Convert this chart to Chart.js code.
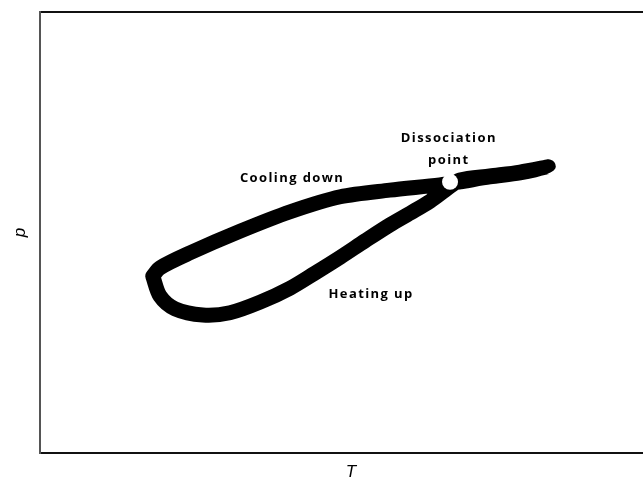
<!DOCTYPE html>
<html>
<head>
<meta charset="utf-8">
<script src="https://cdn.jsdelivr.net/npm/chart.js@4"></script>
<style>
  html, body { margin: 0; padding: 0; background: #fff; }
  #holder { width: 643px; height: 481px; }
</style>
</head>
<body>
<div id="holder"><canvas id="chart-area-1"></canvas></div>
<script>

// loop, heating branch first (lower), then back along the cooling branch (upper)
var tempValues     = [18.7, 19.9, 22.4, 27.0, 31.5, 36.5, 41.5, 45.6, 49.8, 53.9, 58.0, 61.4, 64.7, 67.2, 69.7, 74.6, 79.6, 84.3,
                      79.6, 74.6, 69.7, 66.3, 58.0, 49.8, 41.5, 33.2, 24.9, 19.9, 18.7];
var pressureValues = [40.1, 35.6, 32.7, 31.3, 31.8, 34.2, 37.4, 40.8, 44.4, 48.1, 51.7, 54.4, 57.1, 59.6, 61.9, 62.8, 63.7, 64.9,
                      63.5, 62.6, 61.5, 60.8, 59.6, 58.1, 54.7, 50.3, 45.4, 42.0, 40.1];

var dissocT = [68.0];
var dissocP = [61.5];

var noteTexts = ["Dissociation", "point", "Cooling down", "Heating up"];
var noteT     = [67.8, 67.8, 41.8, 54.9];
var noteP     = [71.4, 66.4, 62.4, 36.1];

var xTitle = "T";
var yTitle = "p";


function make_points(xs, ys) {
    var pts = [];
    for (var i = 0; i < xs.length; i++) {
        pts.push({x: xs[i], y: ys[i]});
    }
    return pts;
}

// frame, axis titles and text notes
var decorPlugin = {
    id: 'decor',
    afterDatasetsDraw: function(chart) {
        var ctx = chart.ctx;
        var a = chart.chartArea;
        var xs = chart.scales.x, ys = chart.scales.y;
        ctx.save();

        ctx.lineWidth = 2;
        ctx.strokeStyle = '#111';
        ctx.beginPath();
        ctx.moveTo(a.left, a.top); ctx.lineTo(chart.width, a.top);
        ctx.moveTo(a.left, a.bottom); ctx.lineTo(chart.width, a.bottom);
        ctx.stroke();
        ctx.strokeStyle = '#555';
        ctx.beginPath();
        ctx.moveTo(a.left, a.top - 1); ctx.lineTo(a.left, a.bottom + 1);
        ctx.stroke();

        ctx.fillStyle = '#000';
        ctx.font = 'italic 17px "Liberation Sans", Arial, sans-serif';
        ctx.textAlign = 'center';
        ctx.textBaseline = 'middle';
        ctx.fillText(xTitle, a.left + 311, a.bottom + 19);
        ctx.translate(20, (a.top + a.bottom) / 2);
        ctx.rotate(-Math.PI / 2);
        ctx.fillText(yTitle, 0, 0);
        ctx.setTransform(1, 0, 0, 1, 0, 0);

        ctx.font = 'bold 13px "Open Sans", sans-serif';
        ctx.letterSpacing = '1.4px';
        for (var i = 0; i < noteTexts.length; i++) {
            ctx.fillText(noteTexts[i], xs.getPixelForValue(noteT[i]), ys.getPixelForValue(noteP[i]));
        }
        ctx.restore();
    }
};

var config = {
    type: 'scatter',
    data: {
        datasets: [{
            label: 'Dissociation point',
            data: make_points(dissocT, dissocP),
            pointRadius: 8,
            pointBackgroundColor: '#fff',
            pointBorderWidth: 0,
            showLine: false
        }, {
            label: 'loop',
            data: make_points(tempValues, pressureValues),
            showLine: true,
            borderColor: '#000',
            borderWidth: 15,
            borderJoinStyle: 'round',
            borderCapStyle: 'round',
            tension: 0.3,
            pointRadius: 0
        }]
    },
    options: {
        responsive: true,
        maintainAspectRatio: false,
        animation: false,
        layout: { autoPadding: false, padding: { left: 40, top: 12, right: 0, bottom: 28 } },
        plugins: { legend: { display: false }, tooltip: { enabled: false } },
        scales: {
            x: { display: false, min: 0, max: 100 },
            y: { display: false, min: 0, max: 100 }
        }
    },
    plugins: [decorPlugin]
};

var ctx = document.getElementById("chart-area-1").getContext("2d");
window.myChart = new Chart(ctx, config);
</script>
</body>
</html>
